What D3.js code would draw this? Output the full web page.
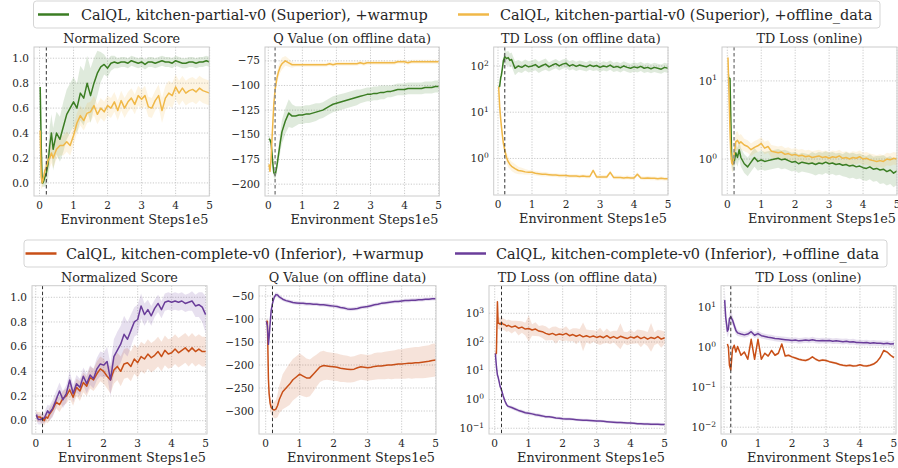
<!DOCTYPE html>
<html>
<head>
<meta charset="utf-8">
<title>CalQL kitchen curves</title>
<script src="https://cdn.jsdelivr.net/npm/d3@7"></script>
<style>
  html, body { margin: 0; padding: 0; background: #fff; }
  svg text { font-family: "DejaVu Serif", serif; fill: #262626; }
</style>
</head>
<body>
<svg id="fig" width="898" height="468"></svg>
<script>
// env steps (x 1e5), shared by every series
const steps = [0.02,0.05,0.08,0.1,0.13,0.16,0.2,0.25,0.3,0.35,0.4,
  0.5,0.6,0.7,0.8,0.9,1.0,1.1,1.2,1.3,1.4,
  1.5,1.6,1.7,1.8,1.9,2.0,2.1,2.2,2.3,2.4,
  2.5,2.6,2.7,2.8,2.9,3.0,3.1,3.2,3.3,3.4,
  3.5,3.6,3.7,3.8,3.9,4.0,4.1,4.2,4.3,4.4,
  4.5,4.6,4.7,4.8,4.9,5.0];
const warmupEnd = 0.2;

// ---- kitchen-partial (row 1)
const scorePartialWarm = [0.77,0.30,0.0,0.0,0.02,0.05,0.08,0.15,0.3,0.4,0.27,
  0.4,0.35,0.45,0.55,0.6,0.65,0.6,0.72,0.68,0.8,
  0.7,0.8,0.88,0.93,0.95,0.92,0.96,0.97,0.96,0.97,
  0.97,0.96,0.98,0.97,0.96,0.97,0.95,0.97,0.97,0.96,
  0.97,0.98,0.97,0.97,0.96,0.98,0.97,0.96,0.96,0.97,
  0.97,0.96,0.97,0.97,0.98,0.97];
const scorePartialWarmSd = [0.05,0.05,0.03,0.03,0.05,0.08,0.1,0.12,0.15,0.15,0.17,
  0.17,0.18,0.2,0.2,0.2,0.2,0.2,0.22,0.22,0.22,
  0.22,0.2,0.18,0.12,0.08,0.07,0.06,0.05,0.04,0.04,
  0.04,0.04,0.04,0.04,0.04,0.04,0.04,0.04,0.04,0.04,
  0.04,0.04,0.04,0.04,0.04,0.04,0.04,0.04,0.04,0.04,
  0.04,0.04,0.04,0.04,0.04,0.04];
const scorePartialOff = [0.42,0.05,0.0,0.02,0.06,0.1,0.12,0.18,0.2,0.24,0.2,
  0.27,0.3,0.3,0.33,0.3,0.38,0.48,0.54,0.5,0.56,
  0.57,0.62,0.55,0.6,0.57,0.62,0.6,0.65,0.58,0.66,
  0.6,0.65,0.68,0.63,0.7,0.67,0.7,0.61,0.6,0.66,
  0.7,0.58,0.68,0.72,0.7,0.77,0.72,0.76,0.72,0.74,
  0.75,0.73,0.76,0.74,0.73,0.72];
const scorePartialOffSd = [0.4,0.1,0.04,0.04,0.05,0.06,0.07,0.08,0.08,0.08,0.08,
  0.08,0.08,0.08,0.08,0.08,0.08,0.08,0.08,0.08,0.08,
  0.08,0.08,0.08,0.08,0.08,0.08,0.08,0.08,0.08,0.08,
  0.08,0.08,0.08,0.08,0.08,0.08,0.08,0.08,0.08,0.08,
  0.09,0.1,0.1,0.1,0.1,0.1,0.1,0.1,0.1,0.1,
  0.1,0.1,0.1,0.1,0.1,0.1];

const qPartialWarm = [-154,-155,-158,-165,-178,-188,-191,-182,-170,-158,-147,
  -136,-128,-131,-131,-130,-130,-129,-129,-128,-127,
  -126,-125,-123,-121,-119,-118,-117,-116,-115,-114,
  -113,-112,-111,-110,-109,-109,-108,-108,-107,-107,
  -106,-106,-105,-104,-104,-104,-103,-103,-103,-103,
  -103,-102,-102,-102,-101,-101];
const qPartialWarmSd = [3,3,3,4,5,5,5,6,8,10,12,
  13,14,12,10,9,9,9,9,9,9,
  8,8,8,8,8,8,8,8,8,8,
  8,8,7,7,7,7,7,7,7,7,
  6,6,6,6,6,6,6,6,6,6,
  6,6,6,6,6,6];
const qPartialOff = [-180,-187,-175,-160,-140,-120,-104,-93,-86,-81,-78,
  -75,-77,-79,-79,-79,-79,-79,-79,-79,-79,
  -79,-79,-79,-78,-79,-78,-78,-78,-78,-78,
  -78,-78,-77,-78,-77,-77,-77,-77,-77,-77,
  -77,-77,-77,-76,-76,-76,-77,-76,-76,-76,
  -76,-76,-76,-76,-76,-76];
const qPartialOffSd = [3,3,4,5,6,6,6,6,6,6,6,
  5,4,3,2,2,2,2,2,2,2,
  2,2,2,2,2,2,2,2,2,2,
  2,2,2,2,2,2,2,2,2,2,
  2,2,2,2,2,2,2,2,2,2,
  2,2,2,2,2,2];

// TD losses are kept as log10 of the loss
const tdOffPartialWarm = [1.55,1.56,1.75,1.8,1.95,2.12,2.2,2.16,2.18,2.12,2.14,
  1.95,2.0,1.97,2.02,1.98,2.0,2.03,1.97,2.01,2.04,
  1.98,2.02,2.05,2.0,2.04,2.06,2.0,2.03,1.99,2.02,
  2.0,1.98,2.02,1.99,2.01,1.97,2.0,1.98,2.02,1.97,
  1.99,1.96,2.0,1.97,1.95,1.98,1.96,1.99,1.95,1.97,
  1.94,1.97,1.95,1.93,1.97,1.95];
const tdOffPartialWarmSd = [0.05,0.05,0.08,0.1,0.1,0.12,0.15,0.15,0.15,0.15,0.15,
  0.15,0.13,0.12,0.12,0.12,0.12,0.12,0.12,0.12,0.12,
  0.1,0.1,0.1,0.1,0.1,0.1,0.1,0.1,0.1,0.1,
  0.1,0.1,0.1,0.1,0.1,0.1,0.1,0.1,0.1,0.1,
  0.1,0.1,0.1,0.1,0.1,0.1,0.1,0.1,0.1,0.1,
  0.1,0.1,0.1,0.1,0.1,0.1];
const tdOffPartialOff = [1.55,1.12,0.85,0.7,0.5,0.32,0.18,0.02,-0.07,-0.13,-0.17,
  -0.22,-0.26,-0.27,-0.29,-0.3,-0.3,-0.32,-0.33,-0.34,-0.34,
  -0.35,-0.36,-0.36,-0.37,-0.37,-0.37,-0.38,-0.38,-0.38,-0.39,
  -0.38,-0.39,-0.39,-0.26,-0.4,-0.4,-0.4,-0.4,-0.3,-0.41,
  -0.41,-0.41,-0.42,-0.41,-0.42,-0.42,-0.34,-0.42,-0.43,-0.42,
  -0.43,-0.43,-0.44,-0.43,-0.44,-0.44];
const tdOffPartialOffSd = [0.1,0.1,0.1,0.1,0.1,0.1,0.12,0.12,0.12,0.1,0.1,
  0.1,0.08,0.07,0.06,0.05,0.05,0.05,0.05,0.05,0.05,
  0.04,0.04,0.04,0.04,0.04,0.04,0.04,0.04,0.04,0.04,
  0.04,0.04,0.04,0.04,0.04,0.04,0.04,0.04,0.04,0.04,
  0.04,0.04,0.04,0.04,0.04,0.04,0.04,0.04,0.04,0.04,
  0.04,0.04,0.04,0.04,0.04,0.04];

const tdOnPartialWarm = [1.04,1.04,1.03,0.6,0.0,-0.06,-0.05,0.08,0.02,0.12,0.02,
  -0.06,-0.1,-0.04,0.02,-0.03,-0.01,-0.03,-0.02,-0.01,0.0,
  0.01,-0.01,0.0,-0.02,-0.04,-0.03,-0.06,-0.04,-0.05,-0.06,
  -0.05,-0.07,-0.05,-0.06,-0.04,-0.06,-0.05,-0.07,-0.06,-0.08,
  -0.07,-0.09,-0.08,-0.1,-0.09,-0.11,-0.12,-0.1,-0.13,-0.12,
  -0.14,-0.13,-0.16,-0.14,-0.18,-0.15];
const tdOnPartialWarmSd = [0.05,0.05,0.05,0.1,0.1,0.1,0.1,0.12,0.12,0.12,0.12,
  0.12,0.12,0.12,0.12,0.12,0.12,0.12,0.12,0.12,0.12,
  0.12,0.12,0.12,0.12,0.12,0.12,0.12,0.12,0.12,0.12,
  0.14,0.14,0.14,0.14,0.14,0.14,0.14,0.14,0.14,0.14,
  0.16,0.16,0.16,0.16,0.16,0.16,0.16,0.16,0.16,0.16,
  0.18,0.18,0.18,0.18,0.18,0.18];
const tdOnPartialOff = [1.3,0.85,0.35,0.1,-0.05,-0.07,0.05,0.22,0.24,0.2,0.22,
  0.18,0.16,0.12,0.15,0.17,0.2,0.14,0.16,0.1,0.09,
  0.08,0.09,0.06,0.07,0.05,0.06,0.04,0.05,0.03,0.04,
  0.02,0.03,0.04,0.02,0.03,0.01,0.03,0.02,0.04,0.01,
  0.02,0.0,0.02,0.01,0.03,0.0,0.01,-0.01,-0.02,-0.03,
  -0.02,-0.03,0.0,-0.01,0.01,0.0];
const tdOnPartialOffSd = [0.15,0.15,0.15,0.12,0.1,0.1,0.12,0.12,0.12,0.1,0.1,
  0.08,0.08,0.08,0.08,0.08,0.08,0.08,0.08,0.08,0.08,
  0.08,0.08,0.08,0.08,0.08,0.08,0.08,0.08,0.08,0.08,
  0.08,0.08,0.08,0.08,0.08,0.08,0.08,0.08,0.08,0.08,
  0.08,0.08,0.08,0.08,0.08,0.08,0.08,0.08,0.08,0.08,
  0.08,0.08,0.08,0.08,0.08,0.08];

// ---- kitchen-complete (row 2)
const scoreCompleteWarm = [0.04,0.03,0.03,0.03,0.03,0.02,0.02,0.0,0.03,0.02,0.05,
  0.09,0.15,0.13,0.18,0.2,0.25,0.19,0.27,0.24,0.31,
  0.28,0.35,0.33,0.38,0.42,0.4,0.36,0.33,0.41,0.44,
  0.4,0.46,0.47,0.44,0.5,0.47,0.52,0.5,0.54,0.51,
  0.53,0.56,0.52,0.57,0.54,0.55,0.58,0.55,0.57,0.59,
  0.56,0.59,0.56,0.58,0.56,0.56];
const scoreCompleteWarmSd = [0.04,0.04,0.04,0.04,0.04,0.04,0.04,0.04,0.04,0.04,0.05,
  0.05,0.05,0.06,0.06,0.06,0.07,0.07,0.07,0.08,0.08,
  0.08,0.09,0.09,0.1,0.1,0.1,0.1,0.11,0.11,0.11,
  0.12,0.12,0.12,0.12,0.12,0.12,0.12,0.12,0.12,0.12,
  0.12,0.12,0.12,0.12,0.12,0.12,0.12,0.12,0.12,0.12,
  0.12,0.12,0.12,0.12,0.12,0.12];
const scoreCompleteOff = [0.05,0.02,0.01,0.01,0.01,0.01,0.02,0.02,0.05,0.08,0.06,
  0.1,0.17,0.24,0.17,0.22,0.33,0.22,0.3,0.27,0.36,
  0.3,0.37,0.34,0.42,0.46,0.45,0.48,0.33,0.52,0.57,
  0.62,0.7,0.66,0.73,0.8,0.82,0.93,0.86,0.9,0.85,
  0.91,0.95,0.9,0.96,0.97,0.96,0.97,0.96,0.97,0.95,
  0.96,0.97,0.93,0.94,0.92,0.86];
const scoreCompleteOffSd = [0.04,0.04,0.04,0.04,0.04,0.04,0.04,0.04,0.05,0.05,0.06,
  0.07,0.07,0.07,0.07,0.07,0.07,0.07,0.07,0.07,0.07,
  0.08,0.08,0.08,0.09,0.1,0.1,0.12,0.13,0.14,0.15,
  0.15,0.15,0.14,0.13,0.12,0.12,0.1,0.09,0.08,0.08,
  0.07,0.07,0.07,0.07,0.07,0.07,0.07,0.07,0.07,0.07,
  0.07,0.08,0.09,0.1,0.12,0.15];

const qCompleteWarm = [-105,-105,-230,-262,-283,-292,-296,-298,-296,-288,-275,
  -258,-250,-242,-232,-226,-220,-224,-228,-228,-220,
  -212,-204,-201,-202,-203,-204,-205,-207,-208,-209,
  -210,-209,-206,-204,-205,-206,-205,-203,-202,-202,
  -201,-200,-200,-199,-198,-198,-197,-196,-196,-195,
  -195,-194,-193,-192,-190,-189];
const qCompleteWarmSd = [5,5,10,12,15,15,15,18,20,25,30,
  38,42,45,45,45,45,44,42,40,38,
  35,33,32,30,30,30,30,30,29,29,
  28,28,28,28,28,28,28,29,29,29,
  30,30,31,31,32,32,33,33,34,34,
  34,35,35,35,36,36];
const qCompleteOff = [-105,-115,-155,-140,-110,-82,-66,-53,-47,-48,-52,
  -57,-60,-62,-64,-65,-66,-66,-67,-67,-68,
  -68,-69,-69,-70,-71,-72,-73,-75,-76,-78,
  -79,-78,-77,-75,-74,-73,-71,-69,-68,-66,
  -65,-64,-63,-62,-62,-61,-60,-60,-59,-59,
  -58,-58,-57,-57,-56,-56];
const qCompleteOffSd = [6,6,6,6,6,6,5,5,5,5,5,
  4,4,4,4,4,4,4,4,4,4,
  4,4,4,4,4,4,4,4,4,4,
  4,4,4,4,4,4,4,4,4,4,
  4,4,4,4,4,4,4,4,4,4,
  4,4,4,4,4,4];

const tdOffCompleteWarm = [1.6,1.6,3.4,2.65,2.65,2.62,2.68,2.62,2.6,2.55,2.58,
  2.52,2.56,2.48,2.52,2.45,2.47,2.42,2.45,2.38,2.36,
  2.3,2.26,2.3,2.24,2.28,2.25,2.3,2.22,2.26,2.2,
  2.25,2.18,2.22,2.17,2.21,2.16,2.2,2.15,2.22,2.14,
  2.19,2.13,2.2,2.16,2.12,2.18,2.14,2.2,2.12,2.17,
  2.1,2.16,2.12,2.19,2.1,2.15];
const tdOffCompleteWarmSd = [0.1,0.1,0.2,0.2,0.2,0.22,0.2,0.2,0.2,0.2,0.2,
  0.22,0.18,0.25,0.2,0.22,0.45,0.2,0.24,0.18,0.22,
  0.25,0.2,0.23,0.3,0.2,0.22,0.25,0.2,0.22,0.28,
  0.2,0.5,0.22,0.25,0.2,0.22,0.3,0.2,0.25,0.22,
  0.2,0.26,0.45,0.2,0.23,0.25,0.2,0.24,0.3,0.22,
  0.25,0.5,0.22,0.24,0.3,0.22];
const tdOffCompleteOff = [1.6,1.15,0.85,0.78,0.62,0.45,0.33,0.12,-0.05,-0.18,-0.24,
  -0.28,-0.33,-0.38,-0.42,-0.46,-0.48,-0.5,-0.53,-0.55,-0.57,
  -0.6,-0.6,-0.62,-0.64,-0.65,-0.67,-0.68,-0.68,-0.69,-0.7,
  -0.71,-0.72,-0.72,-0.73,-0.74,-0.75,-0.75,-0.76,-0.77,-0.78,
  -0.79,-0.8,-0.8,-0.81,-0.82,-0.82,-0.83,-0.84,-0.84,-0.85,
  -0.85,-0.86,-0.86,-0.86,-0.87,-0.87];
const tdOffCompleteOffSd = [0.1,0.1,0.08,0.08,0.08,0.08,0.08,0.07,0.07,0.06,0.06,
  0.06,0.06,0.06,0.06,0.06,0.06,0.06,0.06,0.06,0.06,
  0.05,0.05,0.05,0.05,0.05,0.05,0.05,0.05,0.05,0.05,
  0.05,0.05,0.05,0.05,0.05,0.05,0.05,0.05,0.05,0.05,
  0.05,0.05,0.05,0.05,0.05,0.05,0.05,0.05,0.05,0.05,
  0.05,0.05,0.05,0.05,0.05,0.05];

const tdOnCompleteWarm = [null,null,null,0.08,0.0,-0.45,-0.57,-0.05,0.05,-0.12,0.02,
  -0.2,-0.12,-0.3,0.2,-0.3,0.2,-0.3,-0.15,-0.22,-0.08,
  -0.2,-0.15,0.08,-0.22,-0.2,-0.24,-0.27,-0.3,-0.32,-0.33,
  -0.3,-0.24,-0.3,-0.34,-0.32,-0.33,-0.36,-0.38,-0.4,-0.43,
  -0.45,-0.46,-0.45,-0.47,-0.46,-0.44,-0.46,-0.47,-0.45,-0.42,
  -0.36,-0.25,-0.08,-0.12,-0.2,-0.26];
const tdOnCompleteWarmSd = [0.03,0.03,0.03,0.03,0.03,0.03,0.03,0.03,0.03,0.03,0.03,
  0.03,0.03,0.03,0.03,0.03,0.03,0.03,0.03,0.03,0.03,
  0.03,0.03,0.03,0.03,0.03,0.03,0.03,0.03,0.03,0.03,
  0.03,0.03,0.03,0.03,0.03,0.03,0.03,0.03,0.03,0.03,
  0.03,0.03,0.03,0.03,0.03,0.03,0.03,0.03,0.03,0.03,
  0.03,0.03,0.03,0.03,0.03,0.03];
const tdOnCompleteOff = [1.18,0.75,0.55,0.4,0.45,0.72,0.76,0.68,0.55,0.42,0.36,
  0.33,0.31,0.33,0.39,0.3,0.34,0.29,0.27,0.25,0.24,
  0.22,0.21,0.2,0.19,0.18,0.17,0.18,0.16,0.17,0.18,
  0.17,0.19,0.17,0.16,0.17,0.16,0.17,0.15,0.16,0.15,
  0.14,0.15,0.13,0.14,0.12,0.12,0.11,0.12,0.1,0.11,
  0.1,0.1,0.09,0.1,0.08,0.09];
const tdOnCompleteOffSd = [0.3,0.3,0.2,0.15,0.15,0.15,0.15,0.12,0.1,0.1,0.08,
  0.07,0.07,0.07,0.07,0.07,0.07,0.07,0.07,0.07,0.07,
  0.07,0.07,0.07,0.07,0.07,0.07,0.07,0.07,0.07,0.07,
  0.07,0.07,0.07,0.07,0.07,0.07,0.07,0.07,0.07,0.07,
  0.07,0.07,0.07,0.07,0.07,0.07,0.07,0.07,0.07,0.07,
  0.07,0.07,0.07,0.07,0.07,0.07];

// ticks
const xTicks = [0, 1, 2, 3, 4, 5];
const scoreTicks = [0, 0.2, 0.4, 0.6, 0.8, 1.0];
const qPartialTicks = [-200, -175, -150, -125, -100, -75];
const qCompleteTicks = [-300, -250, -200, -150, -100, -50];
const tdOffPartialTicks = [0, 1, 2];      // exponents
const tdOnPartialTicks = [0, 1];
const tdOffCompleteTicks = [-1, 0, 1, 2, 3];
const tdOnCompleteTicks = [-2, -1, 0, 1];

const titles = ["Normalized Score", "Q Value (on offline data)", "TD Loss (on offline data)", "TD Loss (online)"];
const xLabel = "Environment Steps", xOffset = "1e5";
const legendPartial = ["CalQL, kitchen-partial-v0 (Superior), +warmup", "CalQL, kitchen-partial-v0 (Superior), +offline_data"];
const legendComplete = ["CalQL, kitchen-complete-v0 (Inferior), +warmup", "CalQL, kitchen-complete-v0 (Inferior), +offline_data"];

const GREEN = "#3b7d23", YELLOW = "#f0b848", ORANGE = "#c84f17", PURPLE = "#6a3d9a";

const svg = d3.select("#fig");
const f1 = d3.format(".1f"), f0 = d3.format("d");

// font size that makes a string span a given width
function fitSize(str, base, target) {
  const t = svg.append("text").attr("font-size", base).text(str);
  const w = t.node().getComputedTextLength();
  t.remove();
  return base * target / w;
}
const titleSize = fitSize("Normalized Score", 12, 117);
const labelSize = fitSize(xLabel + xOffset, 12, 148);
const legendSize = fitSize(legendPartial[0], 13, 347);

const panels = [
  {box: [34, 47, 175.3, 149], xd: [-0.162, 4.99], yd: [-0.105, 1.09], ticks: scoreTicks, fmt: f1, title: titles[0],
   dash: "#333", dw: 1, series: [[scorePartialWarm, scorePartialWarmSd, GREEN], [scorePartialOff, scorePartialOffSd, YELLOW]]},
  {box: [265, 47, 174.3, 149], xd: [-0.097, 5.02], yd: [-212, -61], ticks: qPartialTicks, fmt: f0, title: titles[1],
   dash: "#8a8a8a", dw: 1.5, series: [[qPartialWarm, qPartialWarmSd, GREEN], [qPartialOff, qPartialOffSd, YELLOW]]},
  {box: [493.7, 47, 174.3, 148], xd: [-0.126, 5.0], yd: [-0.79, 2.41], ticks: tdOffPartialTicks, log: true, title: titles[2],
   dash: "#333", dw: 1, series: [[tdOffPartialWarm, tdOffPartialWarmSd, GREEN], [tdOffPartialOff, tdOffPartialOffSd, YELLOW]]},
  {box: [722, 47, 175, 148], xd: [-0.156, 5.0], yd: [-0.46, 1.434], ticks: tdOnPartialTicks, log: true, title: titles[3],
   dash: "#8a8a8a", dw: 1.5, series: [[tdOnPartialWarm, tdOnPartialWarmSd, GREEN], [tdOnPartialOff, tdOnPartialOffSd, YELLOW]]},

  {box: [32, 285.7, 175, 148.3], xd: [-0.11, 5.04], yd: [-0.108, 1.094], ticks: scoreTicks, fmt: f1, title: titles[0],
   dash: "#333", dw: 1, series: [[scoreCompleteWarm, scoreCompleteWarmSd, ORANGE], [scoreCompleteOff, scoreCompleteOffSd, PURPLE]]},
  {box: [259, 285.7, 177, 148.3], xd: [-0.197, 5.01], yd: [-350, -27.6], ticks: qCompleteTicks, fmt: f0, title: titles[1],
   dash: "#333", dw: 1, series: [[qCompleteWarm, qCompleteWarmSd, ORANGE], [qCompleteOff, qCompleteOffSd, PURPLE]]},
  {box: [489, 285.7, 177, 148.3], xd: [-0.168, 5.04], yd: [-1.2, 3.96], ticks: tdOffCompleteTicks, log: true, title: titles[2],
   dash: "#333", dw: 1, series: [[tdOffCompleteWarm, tdOffCompleteWarmSd, ORANGE], [tdOffCompleteOff, tdOffCompleteOffSd, PURPLE]]},
  {box: [721, 285.7, 175, 148.3], xd: [-0.088, 5.06], yd: [-2.17, 1.54], ticks: tdOnCompleteTicks, log: true, title: titles[3],
   dash: "#333", dw: 1, series: [[tdOnCompleteOff, tdOnCompleteOffSd, PURPLE], [tdOnCompleteWarm, tdOnCompleteWarmSd, ORANGE]]}
];

panels.forEach(function(p, i) {
  const [L, T, W, H] = p.box;
  const x = d3.scaleLinear().domain(p.xd).range([L, L + W]);
  const y = d3.scaleLinear().domain(p.yd).range([T + H, T]);
  const g = svg.append("g");

  g.append("rect").attr("x", L).attr("y", T).attr("width", W).attr("height", H).attr("fill", "#fff");

  // grid
  g.selectAll(".gx").data(xTicks).enter().append("line")
    .attr("x1", d => x(d)).attr("x2", d => x(d)).attr("y1", T).attr("y2", T + H)
    .attr("stroke", "#bdbdbd").attr("stroke-width", 0.8).attr("stroke-dasharray", "1.2,1.5");
  g.selectAll(".gy").data(p.ticks).enter().append("line")
    .attr("x1", L).attr("x2", L + W).attr("y1", d => y(d)).attr("y2", d => y(d))
    .attr("stroke", "#bdbdbd").attr("stroke-width", 0.8).attr("stroke-dasharray", "1.2,1.5");

  const clipId = "clip" + i;
  svg.append("clipPath").attr("id", clipId).append("rect")
    .attr("x", L).attr("y", T).attr("width", W).attr("height", H);
  const plot = g.append("g").attr("clip-path", "url(#" + clipId + ")");

  p.series.forEach(function(s) {
    const rows = steps.map((t, k) => ({t: t, m: s[0][k], sd: s[1][k]}));
    const area = d3.area().defined(d => d.m != null)
      .x(d => x(d.t)).y0(d => y(d.m - d.sd)).y1(d => y(d.m + d.sd));
    plot.append("path").attr("d", area(rows)).attr("fill", s[2]).attr("fill-opacity", 0.16);
  });
  p.series.forEach(function(s) {
    const rows = steps.map((t, k) => ({t: t, m: s[0][k]}));
    const line = d3.line().defined(d => d.m != null).x(d => x(d.t)).y(d => y(d.m));
    plot.append("path").attr("d", line(rows)).attr("fill", "none")
      .attr("stroke", s[2]).attr("stroke-width", 1.5).attr("stroke-linejoin", "round");
  });

  plot.append("line").attr("x1", x(warmupEnd)).attr("x2", x(warmupEnd)).attr("y1", T).attr("y2", T + H)
    .attr("stroke", p.dash).attr("stroke-width", p.dw).attr("stroke-dasharray", "3.5,2.5");

  g.append("rect").attr("x", L).attr("y", T).attr("width", W).attr("height", H)
    .attr("fill", "none").attr("stroke", "#cccccc").attr("stroke-width", 1);

  // tick labels
  g.selectAll(".xt").data(xTicks).enter().append("text")
    .attr("x", d => x(d)).attr("y", T + H + 12.5).attr("text-anchor", "middle")
    .attr("font-size", 10.5).text(d => d);
  const yt = g.selectAll(".yt").data(p.ticks).enter().append("text")
    .attr("x", L - 5).attr("y", d => y(d)).attr("dy", "0.35em").attr("text-anchor", "end")
    .attr("font-size", 10.5);
  if (p.log) {
    yt.each(function(d) {
      const t = d3.select(this);
      t.append("tspan").text("10");
      t.append("tspan").attr("font-size", 7.5).attr("dy", "-0.55em").text(d < 0 ? "\u2212" + (-d) : d);
    });
  } else {
    yt.text(d => p.fmt(d));
  }

  g.append("text").attr("x", L + W / 2).attr("y", T - 4).attr("text-anchor", "middle")
    .attr("font-size", titleSize).text(p.title);
  // x label with the offset text right behind it
  const lab = g.append("text").attr("x", L + W - 1).attr("y", T + H + 27.5).attr("text-anchor", "end")
    .attr("font-size", labelSize);
  lab.append("tspan").text(xLabel);
  lab.append("tspan").text(xOffset);
});

// legends
function legend(labels, colors, box, items) {
  svg.append("rect").attr("x", box[0]).attr("y", box[1]).attr("width", box[2]).attr("height", box[3])
    .attr("rx", 3).attr("fill", "#fff").attr("stroke", "#d0d0d0").attr("stroke-width", 0.9);
  items.forEach(function(it, k) {
    const cy = box[1] + box[3] / 2;
    svg.append("line").attr("x1", it[0]).attr("x2", it[0] + 31).attr("y1", cy).attr("y2", cy)
      .attr("stroke", colors[k]).attr("stroke-width", 2.5);
    svg.append("text").attr("x", it[1]).attr("y", cy).attr("dy", "0.35em")
      .attr("font-size", legendSize).text(labels[k]);
  });
}
legend(legendPartial, [GREEN, YELLOW], [33.5, 1, 846.5, 27], [[38, 81], [458, 500]]);
legend(legendComplete, [ORANGE, PURPLE], [24, 240, 863, 27], [[25.5, 66], [455, 496]]);
</script>
</body>
</html>
